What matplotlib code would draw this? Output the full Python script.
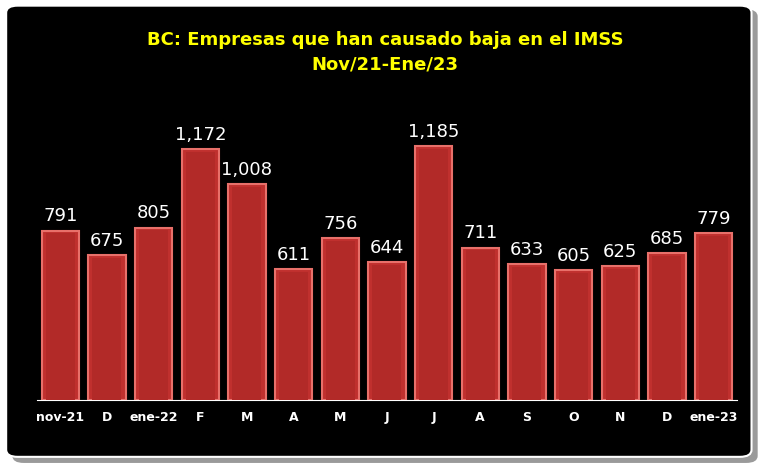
import matplotlib.pyplot as plt
from matplotlib.patches import FancyBboxPatch

months = ['nov-21', 'D', 'ene-22', 'F', 'M', 'A', 'M', 'J', 'J', 'A', 'S', 'O', 'N', 'D', 'ene-23']
bajas = [791, 675, 805, 1172, 1008, 611, 756, 644, 1185, 711, 633, 605, 625, 685, 779]

fig = plt.figure(figsize=(7.7, 4.7), dpi=100)
fig.patch.set_facecolor('white')

# marco negro con sombra
shadow = FancyBboxPatch((0.016, 0.015), 0.968, 0.965, boxstyle='round,pad=0,rounding_size=0.015',
                        transform=fig.transFigure, facecolor='#9a9a9a', edgecolor='none', zorder=0)
frame = FancyBboxPatch((0.008, 0.028), 0.968, 0.96, boxstyle='round,pad=0,rounding_size=0.015',
                       transform=fig.transFigure, facecolor='black', edgecolor='white', lw=1.5, zorder=1)
fig.patches.extend([shadow, frame])

ax = fig.add_axes([0.048, 0.149, 0.909, 0.638])
ax.set_zorder(5)
ax.set_facecolor('none')
x = range(len(months))
ax.bar(x, bajas, width=0.8, color='#c0302e', edgecolor='#e8706a', linewidth=1.5, zorder=2)
ax.bar(x, [v - 12 for v in bajas], width=0.62, color='#b22a28', edgecolor='none', zorder=3)
for i, v in enumerate(bajas):
    ax.text(i, v + 25, f'{v:,}', ha='center', va='bottom', color='white', fontsize=13, zorder=4)

ax.set_xlim(-0.5, len(months) - 0.5)
ax.set_ylim(0, 1400)
ax.set_yticks([])
ax.set_xticks(list(x))
ax.set_xticklabels(months, color='white', fontsize=9, fontweight='bold')
ax.tick_params(axis='x', length=0, pad=8)
for s in ['top', 'right', 'left']:
    ax.spines[s].set_visible(False)
ax.spines['bottom'].set_color('white')

fig.text(0.5, 0.915, 'BC: Empresas que han causado baja en el IMSS', ha='center', va='center',
         color='#ffff00', fontsize=13, fontweight='bold', zorder=6)
fig.text(0.5, 0.862, 'Nov/21-Ene/23', ha='center', va='center',
         color='#ffff00', fontsize=13, fontweight='bold', zorder=6)

fig.savefig('out.png', dpi=100, facecolor=fig.get_facecolor())
